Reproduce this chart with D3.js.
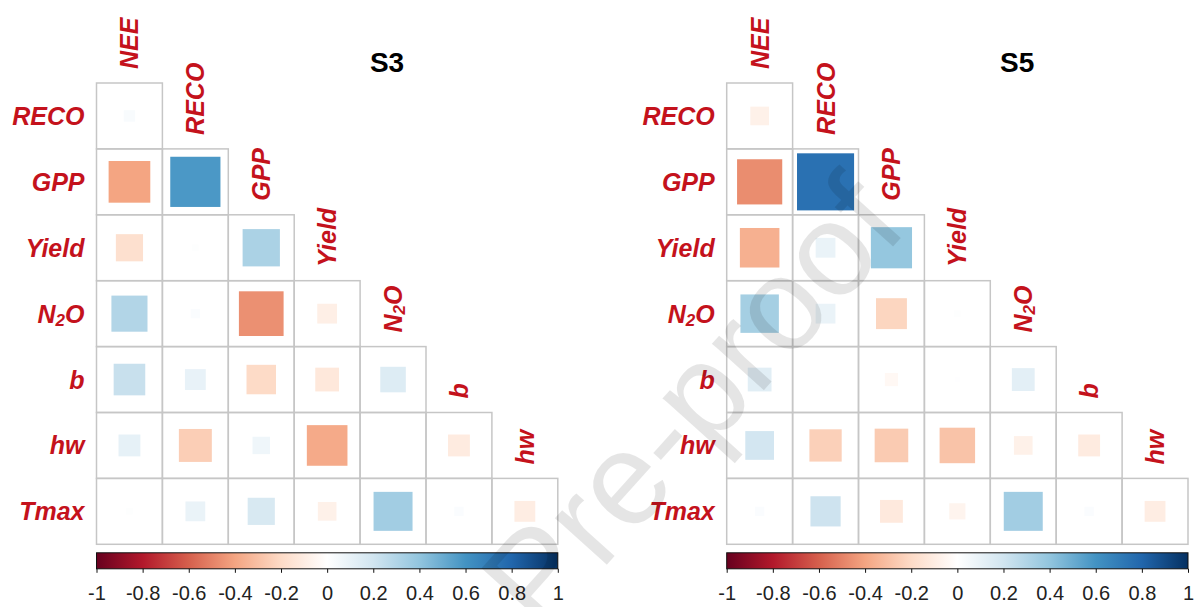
<!DOCTYPE html>
<html>
<head>
<meta charset="utf-8">
<script src="https://cdn.jsdelivr.net/npm/d3@7"></script>
<style>
  body { margin: 0; background: #fff; }
  svg { display: block; font-family: "Liberation Sans", Arial, sans-serif; }
</style>
</head>
<body>
<svg id="foo" width="1198" height="607"></svg>
<script>
// variables (rows = lower triangle, cols = upper labels)
const rowVars = ["RECO", "GPP", "Yield", "N2O", "b", "hw", "Tmax"];
const colVars = ["NEE", "RECO", "GPP", "Yield", "N2O", "b", "hw"];

// correlation coefficients (row by row, lower triangle)
const s3Values = [
  [0.03],
  [-0.40, 0.58],
  [-0.17, 0.01, 0.32],
  [0.30, 0.02, -0.46, -0.09],
  [0.23, 0.10, -0.20, -0.13, 0.15],
  [0.11, -0.25, 0.07, -0.38, 0.00, -0.11],
  [0.01, 0.09, 0.17, -0.08, 0.35, 0.02, -0.10]
];
const s5Values = [
  [-0.08],
  [-0.47, 0.75],
  [-0.36, 0.09, 0.39],
  [0.34, 0.09, -0.22, 0.01],
  [0.13, 0.00, -0.04, 0.005, 0.12],
  [0.19, -0.24, -0.26, -0.29, -0.08, -0.11],
  [0.02, 0.21, -0.12, -0.06, 0.35, 0.02, -0.10]
];
const panelTitles = ["S3", "S5"];
const legendTicks = [-1, -0.8, -0.6, -0.4, -0.2, 0, 0.2, 0.4, 0.6, 0.8, 1];
const rdbu = ["#67001F", "#B2182B", "#D6604D", "#F4A582", "#FDDBC7", "#FFFFFF",
              "#D1E5F0", "#92C5DE", "#4393C3", "#2166AC", "#053061"];

const cell = 65.9;
const size = cell * colVars.length;
const labelRed = "#c4121c";

const svg = d3.select('#foo');

const color = d3.scaleLinear()
  .domain(legendTicks)
  .range(rdbu);

const defs = svg.append("defs");
const grad = defs.append("linearGradient")
  .attr("id", "rdbu")
  .attr("x1", "0%").attr("x2", "100%")
  .attr("y1", "0%").attr("y2", "0%");
grad.selectAll("stop")
  .data(legendTicks)
  .enter().append("stop")
  .attr("offset", d => ((d + 1) / 2 * 100) + "%")
  .attr("stop-color", d => color(d));

function drawPanel(left, top, title, values) {
  const g = svg.append("g")
    .attr("transform", "translate(" + left + "," + top + ")");

  const x = d3.scaleBand().domain(colVars).range([0, size]);
  const y = d3.scaleBand().domain(rowVars).range([0, size]);

  const cells = [];
  values.forEach((row, i) => {
    row.forEach((r, j) => {
      cells.push({ row: rowVars[i], col: colVars[j], r: r });
    });
  });

  // grid boxes
  g.selectAll(".box")
    .data(cells)
    .enter().append("rect")
    .attr("class", "box")
    .attr("x", d => x(d.col))
    .attr("y", d => y(d.row))
    .attr("width", x.bandwidth())
    .attr("height", y.bandwidth())
    .style("fill", "none")
    .style("stroke", "#c6c6c6")
    .style("stroke-width", 1.5);

  // squares, side ~ sqrt(|r|) like corrplot
  g.selectAll(".sq")
    .data(cells)
    .enter().append("rect")
    .attr("class", "sq")
    .attr("x", d => x(d.col) + (x.bandwidth() - Math.sqrt(Math.abs(d.r)) * x.bandwidth()) / 2)
    .attr("y", d => y(d.row) + (y.bandwidth() - Math.sqrt(Math.abs(d.r)) * y.bandwidth()) / 2)
    .attr("width", d => Math.sqrt(Math.abs(d.r)) * x.bandwidth())
    .attr("height", d => Math.sqrt(Math.abs(d.r)) * y.bandwidth())
    .style("fill", d => color(d.r));

  // row labels
  const rl = g.selectAll(".rlab")
    .data(rowVars)
    .enter().append("text")
    .attr("class", "rlab")
    .attr("x", -12)
    .attr("y", d => y(d) + y.bandwidth() / 2)
    .attr("text-anchor", "end")
    .attr("dominant-baseline", "central")
    .style("font-size", "25px")
    .style("font-weight", "bold")
    .style("font-style", "italic")
    .style("fill", labelRed);
  addLabelText(rl);

  // column labels, rotated, sitting on the diagonal box
  const cl = g.selectAll(".clab")
    .data(colVars)
    .enter().append("text")
    .attr("class", "clab")
    .attr("transform", (d, j) => "translate(" + (x(d) + x.bandwidth() / 2) + "," + (y(rowVars[j]) - 14) + ") rotate(-90)")
    .attr("text-anchor", "start")
    .attr("dominant-baseline", "central")
    .style("font-size", "25px")
    .style("font-weight", "bold")
    .style("font-style", "italic")
    .style("fill", labelRed);
  addLabelText(cl);

  g.append("text")
    .attr("x", 290.5)
    .attr("y", -11)
    .attr("text-anchor", "middle")
    .style("font-size", "28px")
    .style("font-weight", "bold")
    .style("fill", "#000")
    .text(title);

  // colour legend
  const lg = g.append("g")
    .attr("transform", "translate(0," + (size + 8.5) + ")");
  lg.append("rect")
    .attr("width", size)
    .attr("height", 16)
    .style("fill", "url(#rdbu)")
    .style("stroke", "#111")
    .style("stroke-width", 1);

  const lx = d3.scaleLinear().domain([-1, 1]).range([0, size]);
  const ax = lg.append("g")
    .attr("transform", "translate(0,16)")
    .call(d3.axisBottom(lx)
      .tickValues(legendTicks)
      .tickSize(4)
      .tickPadding(13)
      .tickFormat(d => String(d)));
  ax.select(".domain").remove();
  ax.selectAll("line").style("stroke", "#111");
  ax.selectAll("text")
    .style("font-size", "20px")
    .style("font-family", "'Liberation Sans', Arial, sans-serif")
    .style("fill", "#222");
}

function addLabelText(sel) {
  sel.each(function(d) {
    const t = d3.select(this);
    if (d === "N2O") {
      t.append("tspan").text("N");
      t.append("tspan").attr("dy", 6).style("font-size", "17px").text("2");
      t.append("tspan").attr("dy", -6).text("O");
    } else {
      t.text(d);
    }
  });
}

drawPanel(96.5, 83, panelTitles[0], s3Values);
drawPanel(726.7, 83, panelTitles[1], s5Values);

// pre-proof watermark
svg.append("text")
  .attr("transform", "translate(692,402) rotate(-48)")
  .attr("text-anchor", "middle")
  .attr("dominant-baseline", "central")
  .style("font-size", "132px")
  .style("fill", "#000")
  .style("fill-opacity", 0.1)
  .text("Pre-proof");
</script>
</body>
</html>
